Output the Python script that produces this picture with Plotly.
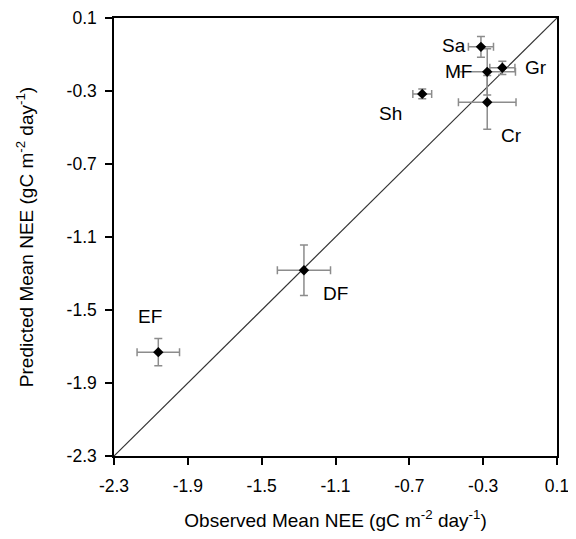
import plotly.graph_objects as go

labels = ["Sa", "MF", "Gr", "Sh", "Cr", "DF", "EF"]
observed = [-0.312, -0.278, -0.196, -0.630, -0.278, -1.271, -2.060]
predicted = [-0.058, -0.195, -0.173, -0.316, -0.362, -1.282, -1.731]
observed_err = [0.068, 0.153, 0.068, 0.051, 0.156, 0.144, 0.115]
predicted_err = [0.057, 0.127, 0.036, 0.027, 0.147, 0.138, 0.075]
tick_vals = [-2.3, -1.9, -1.5, -1.1, -0.7, -0.3, 0.1]
tick_text = ["-2.3", "-1.9", "-1.5", "-1.1", "-0.7", "-0.3", "0.1"]
one_to_one = [-2.3, 0.1]

# label offsets in pixels (xshift, yshift)
label_offsets = {
    "Sa": (-27, 1), "MF": (-29, 0), "Gr": (34, 0), "Sh": (-32, -20),
    "Cr": (24, -33), "DF": (32, -23), "EF": (-8, 36),
}

FONT = "Liberation Sans, Arial, sans-serif"

fig = go.Figure()
fig.add_trace(go.Scatter(
    x=one_to_one, y=one_to_one, mode="lines",
    line=dict(color="#333333", width=1.2), hoverinfo="skip", showlegend=False,
))
fig.add_trace(go.Scatter(
    x=observed, y=predicted, mode="markers",
    marker=dict(symbol="diamond", color="black", size=8),
    error_x=dict(type="data", array=observed_err, color="#8c8c8c", thickness=1.5, width=4),
    error_y=dict(type="data", array=predicted_err, color="#8c8c8c", thickness=1.5, width=4),
    showlegend=False,
))

for lab, xv, yv in zip(labels, observed, predicted):
    dx, dy = label_offsets[lab]
    fig.add_annotation(x=xv, y=yv, text=lab, showarrow=False,
                       xshift=dx, yshift=dy,
                       font=dict(family=FONT, size=19, color="black"))

axis_common = dict(
    range=[-2.3, 0.1], tickvals=tick_vals, ticktext=tick_text,
    showgrid=False, zeroline=False, showline=True, linecolor="black",
    linewidth=1.5, mirror=True, ticks="outside", ticklen=7, tickwidth=1.5,
    tickcolor="black", tickfont=dict(family=FONT, size=17.5, color="black"),
    automargin=False, ticklabeloverflow="allow",
)

fig.update_xaxes(**axis_common, ticklabelstandoff=6,
                 title=dict(text="Observed Mean NEE (gC m<sup>-2</sup> day<sup>-1</sup>)",
                            font=dict(family=FONT, size=19, color="black"), standoff=19))
fig.update_yaxes(**axis_common, ticklabelstandoff=5,
                 title=dict(text="Predicted Mean NEE (gC m<sup>-2</sup> day<sup>-1</sup>)",
                            font=dict(family=FONT, size=19, color="black"), standoff=28))

# page body has an 8px default margin, so the figure is sized to fit the window
fig.update_layout(
    width=568, height=531,
    margin=dict(l=106, r=19, t=10, b=83, autoexpand=False),
    paper_bgcolor="white", plot_bgcolor="white",
)

fig.write_html("out.html")
